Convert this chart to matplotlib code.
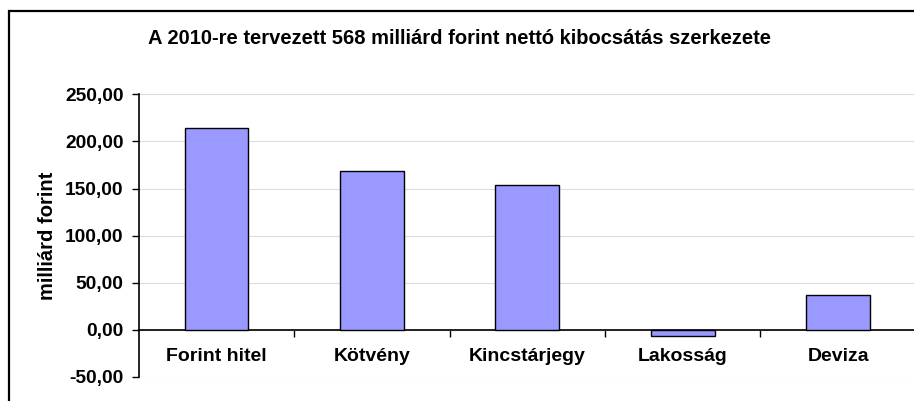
import matplotlib.pyplot as plt
from matplotlib.patches import Rectangle
from matplotlib.ticker import FuncFormatter, FixedLocator

# Data
categories = ["Forint hitel", "Kötvény", "Kincstárjegy", "Lakosság", "Deviza"]
values = [214.0, 169.0, 153.5, -6.3, 36.7]

title = "A 2010-re tervezett 568 milliárd forint nettó kibocsátás szerkezete"
ylabel = "milliárd forint"
yticks = [-50, 0, 50, 100, 150, 200, 250]

plt.rcParams["font.family"] = ["Liberation Sans", "DejaVu Sans"]
plt.rcParams["font.weight"] = "bold"

fig = plt.figure(figsize=(9.14, 4.01), dpi=100)
W, H = 914, 401

# outer chart frame (runs off the right and bottom edge)
fig.patches.append(Rectangle((9 / W, -0.1), 1.2, 1 - 11 / H + 0.1,
                             transform=fig.transFigure, fill=False,
                             edgecolor="black", linewidth=1.6))

ax = fig.add_axes([138.7 / W, 1 - 377 / H, 1 - 138.7 / W + 0.002, (377 - 94.3) / H])

x = list(range(len(categories)))
ax.bar(x, values, width=0.41, color="#9999FF", edgecolor="black",
       linewidth=1.0, zorder=3)

ax.set_xlim(-0.5, len(categories) - 0.5)
ax.set_ylim(-50, 250)

ax.yaxis.set_major_locator(FixedLocator(yticks))
ax.yaxis.set_major_formatter(FuncFormatter(lambda v, p: f"{v:.2f}".replace(".", ",")))
ax.grid(axis="y", color="#dcdcdc", linewidth=0.8, zorder=0)

ax.spines["top"].set_visible(False)
ax.spines["right"].set_visible(False)
ax.spines["bottom"].set_position(("data", 0))
ax.spines["left"].set_linewidth(1.2)
ax.spines["bottom"].set_linewidth(1.2)

ax.set_xticks(x)
ax.set_xticklabels(categories, fontsize=14, fontweight="bold")
ax.tick_params(axis="x", which="major", length=0, pad=13)
ax.set_xticks([i + 0.5 for i in range(len(categories) - 1)], minor=True)
ax.tick_params(axis="x", which="minor", length=5, width=1, direction="out")
ax.tick_params(axis="y", length=5, width=1, labelsize=13.8, pad=6)

ax.set_ylabel(ylabel, fontsize=14.5, fontweight="bold", labelpad=6)

fig.text(0.503, 1 - 38 / H, title, ha="center", va="center",
         fontsize=14.5, fontweight="bold")

fig.savefig("out.png", dpi=100)
